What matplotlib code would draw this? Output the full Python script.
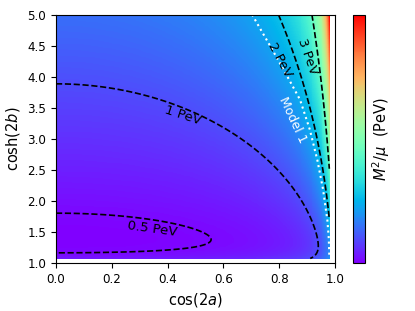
import numpy as np
import matplotlib.pyplot as plt

# contour traces of M^2/mu (PeV), x = cos(2a), y = cosh(2b)
lev05_x = [0.0, 0.276, 0.396, 0.553, 0.563, 0.50, 0.396, 0.0]
lev05_y = [1.81, 1.75, 1.67, 1.42, 1.34, 1.25, 1.22, 1.17]
lev1_x = [0.0, 0.276, 0.517, 0.715, 0.817, 0.877, 0.913, 0.937, 0.943, 0.931, 0.919]
lev1_y = [3.96, 3.82, 3.38, 2.82, 2.29, 1.91, 1.64, 1.42, 1.26, 1.13, 1.08]
lev2_x = [0.783, 0.841, 0.904, 0.937, 0.949, 0.961, 0.975]
lev2_y = [5.0, 4.44, 3.63, 2.98, 2.66, 2.34, 1.80]
lev3_x = [0.913, 0.919, 0.955, 0.961, 0.973, 0.979, 0.984]
lev3_y = [5.0, 4.81, 4.0, 3.63, 3.04, 2.66, 2.3]
levels = [0.5, 1, 2, 3]

# a few values
col_x = [0.0, 0.98, 0.98, 0.0, 0.0, 0.98]
col_y = [5.0, 5.0, 1.1, 1.075, 1.45, 3.5]
col_v = [1.25, 7.0, 1.8, 0.55, 0.45, 4.3]

# "Model 1" line
model1_x = [0.703, 0.775, 0.83, 0.875, 0.91, 0.937, 0.957, 0.973, 0.978, 0.98]
model1_y = [5.0, 4.44, 4.0, 3.63, 3.15, 2.66, 2.2, 1.69, 1.4, 1.1]


def basis(x, y):
    v = y - 1.0
    s2 = 1.0 / (1.0 - np.minimum(x, 0.985) ** 2)
    s = np.sqrt(s2)
    w = 1.0 / (v + 0.4)
    return np.stack([np.ones_like(v), v, w, w ** 2, v * s, w * s2, s2, w * s], axis=-1)


# least squares field through the traced points
px = np.concatenate([lev05_x, lev1_x, lev2_x, lev3_x, col_x])
py = np.concatenate([lev05_y, lev1_y, lev2_y, lev3_y, col_y])
pv = np.concatenate([np.full(len(lev05_x), 0.5), np.full(len(lev1_x), 1.0),
                     np.full(len(lev2_x), 2.0), np.full(len(lev3_x), 3.0), col_v])
n = len(px) - len(col_x)
wt = np.concatenate([2.0 / pv[:n], np.full(len(col_x), 0.1)])
wt[:len(lev05_x)] *= 2.0
A = basis(px, py) * wt[:, None]
coef = np.linalg.lstsq(A, pv * wt, rcond=None)[0]

xg = np.linspace(0.0, 0.98, 300)
yg = np.linspace(1.075, 5.0, 300)
X, Y = np.meshgrid(xg, yg)
F = basis(X, Y) @ coef

fig = plt.figure(figsize=(4.15, 3.11), dpi=100)
ax = fig.add_axes([0.135, 0.154, 0.672, 0.799])
cax = fig.add_axes([0.850, 0.154, 0.030, 0.799])

pc = ax.pcolormesh(xg, yg, F, cmap='rainbow', shading='auto')
ax.contour(X, Y, F, levels=levels, colors='black', linestyles='dashed', linewidths=1.2)
ax.plot(model1_x, model1_y, ':', color='white', lw=1.5)

ax.text(0.344, 1.55, '0.5 PeV', rotation=-8, fontsize=9.5, ha='center', va='center')
ax.text(0.455, 3.37, '1 PeV', rotation=-18, fontsize=9.5, ha='center', va='center')
ax.text(0.802, 4.27, '2 PeV', rotation=-62, fontsize=9.5, ha='center', va='center')
ax.text(0.902, 4.33, '3 PeV', rotation=-71, fontsize=9.5, ha='center', va='center')
ax.text(0.847, 3.31, 'Model 1', rotation=-65, fontsize=9, ha='center', va='center', color='white')

ax.set_xlim(0, 1)
ax.set_ylim(1, 5)
ax.set_xticks(np.arange(0, 1.01, 0.2))
ax.set_yticks(np.arange(1, 5.01, 0.5))
ax.tick_params(labelsize=8.6)
ax.set_xlabel(r'cos(2$a$)', fontsize=10.5)
ax.set_ylabel(r'cosh(2$b$)', fontsize=10.5)

cb = fig.colorbar(pc, cax=cax)
cb.set_ticks([])
cb.set_label(r'$M^2/\mu$  (PeV)', fontsize=10.5)

fig.savefig('out.png', dpi=100)
